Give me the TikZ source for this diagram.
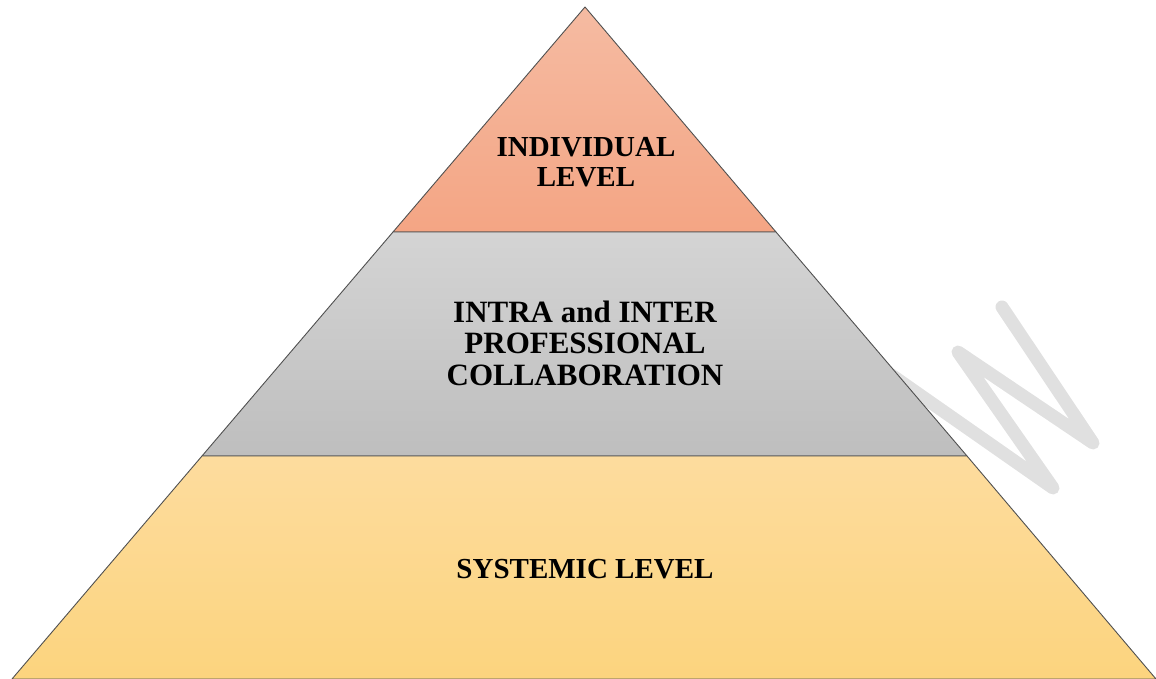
\documentclass[tikz,border=0pt]{standalone}
\usepackage{fontspec}
\setmainfont{Liberation Serif}
\definecolor{topA}{HTML}{F5BBA2}
\definecolor{topB}{HTML}{F4A584}
\definecolor{midA}{HTML}{D4D4D4}
\definecolor{midB}{HTML}{BEBEBE}
\definecolor{botA}{HTML}{FDDC9E}
\definecolor{botB}{HTML}{FCD47E}
\definecolor{edge}{HTML}{505050}
\definecolor{wmark}{HTML}{E0E0E0}
\begin{document}
\begin{tikzpicture}[x=1pt,y=-1pt,
  tier/.style={draw=edge,line width=0.9pt,line join=round},
  lbl/.style={font=\bfseries\fontsize{29}{30}\selectfont,align=center,inner sep=0pt,anchor=base},
  lblmid/.style={font=\bfseries\fontsize{31}{31.5}\selectfont,align=center,inner sep=0pt,anchor=base},
  wm/.style={draw=wmark,line width=13pt,line cap=round,line join=round}]
\useasboundingbox (0,0) rectangle (1156,679);
% watermark
\coordinate (w0) at (880,367);
\coordinate (w1) at (1053,488);
\coordinate (w2) at (958,352);
\coordinate (w3) at (1093,443);
\coordinate (w4) at (1002,307);
\draw[wm] (w0) -- (w1) -- (w2) -- (w3) -- (w4);
% pyramid corners
\coordinate (apex) at (585,7);
\coordinate (l1) at (393,232);
\coordinate (r1) at (776,232);
\coordinate (l2) at (202,456);
\coordinate (r2) at (967,456);
\coordinate (l3) at (12,679);
\coordinate (r3) at (1156,679);
\path[tier,top color=topA,bottom color=topB] (apex) -- (r1) -- (l1) -- cycle;
\path[tier,top color=midA,bottom color=midB] (l1) -- (r1) -- (r2) -- (l2) -- cycle;
\path[tier,top color=botA,bottom color=botB] (l2) -- (r2) -- (r3) -- (l3) -- cycle;
% labels (base anchor = baseline of last line)
\node[lbl] (ind) at (586,187) {INDIVIDUAL\\LEVEL};
\node[lblmid] (ipc) at (585,385) {INTRA and INTER\\PROFESSIONAL\\COLLABORATION};
\node[lbl] (sys) at (585,578) {SYSTEMIC LEVEL};
\end{tikzpicture}
\end{document}
